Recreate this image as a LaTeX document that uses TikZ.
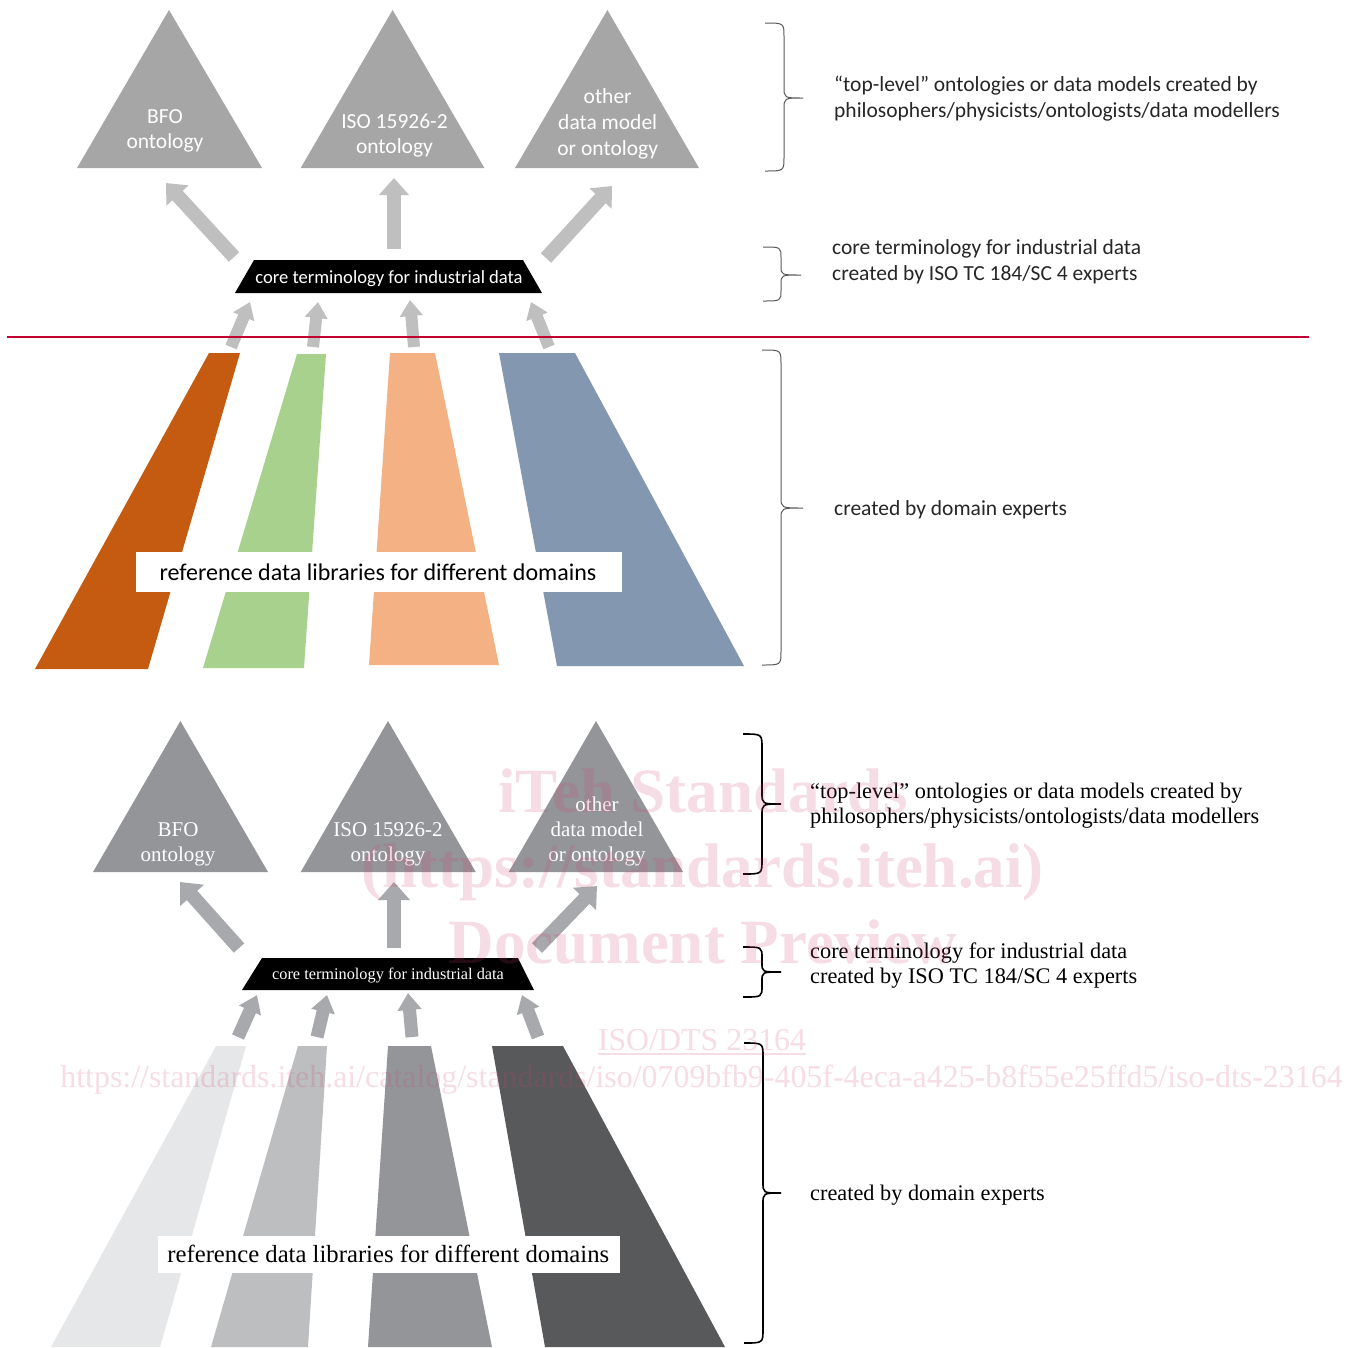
\documentclass[tikz,border=0pt]{standalone}
\usepackage{fontspec}
\setmainfont{Carlito}
\newfontfamily\serifface{Liberation Serif}
\usetikzlibrary{arrows.meta,calc}
\definecolor{tritop}{HTML}{A6A6A6}
\definecolor{arrtop}{HTML}{BFBFBF}
\definecolor{bandA}{HTML}{C55A11}
\definecolor{bandB}{HTML}{A9D18E}
\definecolor{bandC}{HTML}{F4B183}
\definecolor{bandD}{HTML}{8497B0}
\definecolor{redline}{HTML}{C00030}
\definecolor{tribot}{HTML}{939598}
\definecolor{arrbot}{HTML}{A7A9AC}
\definecolor{greyA}{HTML}{E6E7E8}
\definecolor{greyB}{HTML}{BCBEC0}
\definecolor{greyC}{HTML}{939598}
\definecolor{greyD}{HTML}{58595B}
\definecolor{bracetop}{HTML}{5A5A5A}
\definecolor{wmark}{HTML}{D0406A}
\newcommand{\mybrace}[9]{\draw[#1] (#2,#5) .. controls (#3,#5) .. (#3,#5+#8) -- (#3,#6-#9) .. controls (#3,#6) .. (#4,#6) .. controls (#3,#6) .. (#3,#6+#9) -- (#3,#7-#8) .. controls (#3,#7) .. (#2,#7);}
\tikzset{
  trilabtop/.style={text=white, font=\fontsize{21.5}{26}\selectfont, anchor=base, inner sep=0pt},
  trilabbot/.style={text=white, font=\serifface\fontsize{21}{25}\selectfont, anchor=base, inner sep=0pt},
  rlabtop/.style={text=black!85, font=\fontsize{21.5}{26}\selectfont, anchor=base west, inner sep=0pt},
  rlabbot/.style={text=black, font=\serifface\fontsize{22.3}{25}\selectfont, anchor=base west, inner sep=0pt},
  bigtop/.style={draw=arrtop, line width=14pt, -{Triangle[width=29pt,length=17pt]}},
  smalltop/.style={draw=arrtop, line width=12pt, -{Triangle[width=22pt,length=16pt]}},
  bigbot/.style={draw=arrbot, line width=14pt, -{Triangle[width=31pt,length=18pt]}},
  smallbot/.style={draw=arrbot, line width=13pt, -{Triangle[width=23pt,length=17pt]}},
  braceT/.style={draw=bracetop, line width=1pt},
  braceB/.style={draw=black, line width=1.6pt},
  libbox/.style={fill=white, inner sep=0pt},
  wm/.style={text=wmark, text opacity=0.18, anchor=base, inner sep=0pt},
}
\begin{document}
\begin{tikzpicture}[x=1pt,y=-1pt]
\useasboundingbox (0,0) rectangle (1359,1347);
\fill[white] (0,0) rectangle (1359,1347);

% ================= TOP HALF =================
\fill[tritop] (77,168) -- (169,10) -- (262,168) -- cycle;
\fill[tritop] (300.7,168) -- (392.6,10) -- (484.4,168) -- cycle;
\fill[tritop] (515,168) -- (607.4,10) -- (699,168) -- cycle;
\node[trilabtop] (bfoA) at (165,123) {BFO};
\node[trilabtop] (bfoB) at (165,148) {ontology};
\node[trilabtop] (isoA) at (394.5,128) {ISO 15926-2};
\node[trilabtop] (isoB) at (394.5,153) {ontology};
\node[trilabtop] (othA) at (607.7,103) {other};
\node[trilabtop] (othB) at (607.7,129) {data model};
\node[trilabtop] (othC) at (607.7,155) {or ontology};

\fill[black] (254,260) -- (523,260) -- (542,293) -- (235,293) -- cycle;
\node[text=white, font=\fontsize{18.6}{22}\selectfont, anchor=base, inner sep=0pt] (coreT) at (389,283) {core terminology for industrial data};

\coordinate (tA1) at (234,257); \coordinate (hA1) at (166,183);
\coordinate (tA2) at (394,249); \coordinate (hA2) at (394,178);
\coordinate (tA3) at (546,258); \coordinate (hA3) at (612,186);
\draw[bigtop] (tA1) -- (hA1);
\draw[bigtop] (tA2) -- (hA2);
\draw[bigtop] (tA3) -- (hA3);

\coordinate (tS1) at (231,347); \coordinate (hS1) at (250,302);
\coordinate (tS2) at (313,347); \coordinate (hS2) at (318,302);
\coordinate (tS3) at (414,347); \coordinate (hS3) at (410,300);
\coordinate (tS4) at (549,347); \coordinate (hS4) at (531,302);
\draw[smalltop] (tS1) -- (hS1);
\draw[smalltop] (tS2) -- (hS2);
\draw[smalltop] (tS3) -- (hS3);
\draw[smalltop] (tS4) -- (hS4);

\draw[redline, line width=2pt] (7,337) -- (1309,337);

\fill[bandA] (209,353) -- (240,353) -- (148,669) -- (35,669) -- cycle;
\fill[bandB] (297,354) -- (326,354) -- (304,668) -- (203,668) -- cycle;
\fill[bandC] (390,353) -- (435,353) -- (499,665) -- (369,665) -- cycle;
\fill[bandD] (499,353) -- (575,353) -- (744,666) -- (557,666) -- cycle;
\node[libbox, minimum width=486pt, minimum height=40pt] (libboxT) at (379,572) {};
\node[text=black, font=\fontsize{24}{28}\selectfont, anchor=base, inner sep=0pt] (libT) at (378,580) {reference data libraries for different domains};

\mybrace{braceT}{765}{784}{803}{23}{98}{171}{14}{11}
\node[rlabtop] (r1a) at (834,91) {“top-level” ontologies or data models created by};
\node[rlabtop] (r1b) at (834,117) {philosophers/physicists/ontologists/data modellers};
\mybrace{braceT}{763}{781}{801}{247}{275}{301}{11}{9}
\node[rlabtop] (r2a) at (832,254) {core terminology for industrial data};
\node[rlabtop] (r2b) at (832,280) {created by ISO TC 184/SC 4 experts};
\mybrace{braceT}{762}{781}{803}{350}{508}{665}{14}{11}
\node[rlabtop] (r3a) at (834,515) {created by domain experts};

% ================= BOTTOM HALF =================
\fill[tribot] (93,872) -- (180.4,721) -- (268,872) -- cycle;
\fill[tribot] (300.7,872) -- (388,721) -- (475.7,872) -- cycle;
\fill[tribot] (508.7,872) -- (596,721) -- (683,872) -- cycle;
\node[trilabbot] (bbfoA) at (178,836) {BFO};
\node[trilabbot] (bbfoB) at (178,861) {ontology};
\node[trilabbot] (bisoA) at (388,836) {ISO 15926-2};
\node[trilabbot] (bisoB) at (388,861) {ontology};
\node[trilabbot] (bothA) at (597,811) {other};
\node[trilabbot] (bothB) at (597,836) {data model};
\node[trilabbot] (bothC) at (597,861) {or ontology};

\fill[black] (262,958) -- (518,958) -- (534,990) -- (242,990) -- cycle;
\node[text=white, font=\serifface\fontsize{16.3}{20}\selectfont, anchor=base, inner sep=0pt] (coreB) at (388,979) {core terminology for industrial data};

\coordinate (tB1) at (239,948); \coordinate (hB1) at (180,882);
\coordinate (tB2) at (394,948); \coordinate (hB2) at (394,882);
\coordinate (tB3) at (537,948); \coordinate (hB3) at (597,886);
\draw[bigbot] (tB1) -- (hB1);
\draw[bigbot] (tB2) -- (hB2);
\draw[bigbot] (tB3) -- (hB3);

\coordinate (tC1) at (238,1037); \coordinate (hC1) at (257,995);
\coordinate (tC2) at (317,1037); \coordinate (hC2) at (327,995);
\coordinate (tC3) at (412,1037); \coordinate (hC3) at (408,993);
\coordinate (tC4) at (538,1037); \coordinate (hC4) at (522,995);
\draw[smallbot] (tC1) -- (hC1);
\draw[smallbot] (tC2) -- (hC2);
\draw[smallbot] (tC3) -- (hC3);
\draw[smallbot] (tC4) -- (hC4);

\fill[greyA] (216,1046) -- (246,1046) -- (160,1347) -- (51,1347) -- cycle;
\fill[greyB] (298,1046) -- (327,1046) -- (308,1347) -- (211,1347) -- cycle;
\fill[greyC] (388,1046) -- (431,1046) -- (492,1347) -- (368,1347) -- cycle;
\fill[greyD] (492,1046) -- (563,1046) -- (725,1347) -- (545,1347) -- cycle;
\node[libbox, minimum width=462pt, minimum height=37pt] (libboxB) at (388.5,1254.5) {};
\node[text=black, font=\serifface\fontsize{24.7}{28}\selectfont, anchor=base, inner sep=0pt] (libB) at (388.3,1262) {reference data libraries for different domains};

\mybrace{braceB}{743}{762}{781}{734}{804}{874}{14}{11}
\node[rlabbot] (s1a) at (810,798) {“top-level” ontologies or data models created by};
\node[rlabbot] (s1b) at (810,823) {philosophers/physicists/ontologists/data modellers};
\mybrace{braceB}{743}{762}{781}{947}{972}{997}{11}{9}
\node[rlabbot] (s2a) at (810,958) {core terminology for industrial data};
\node[rlabbot] (s2b) at (810,983) {created by ISO TC 184/SC 4 experts};
\mybrace{braceB}{744}{763}{781}{1043}{1193}{1343}{14}{11}
\node[rlabbot] (s3a) at (810,1200) {created by domain experts};

% ================= WATERMARK =================
\node[wm, font=\serifface\bfseries\fontsize{63}{70}\selectfont] (wmA) at (703,812) {iTeh Standards};
\node[wm, font=\serifface\bfseries\fontsize{63}{70}\selectfont] (wmB) at (702.5,887) {(https://standards.iteh.ai)};
\node[wm, font=\serifface\bfseries\fontsize{63}{70}\selectfont] (wmC) at (702.5,963) {Document Preview};
\node[wm, font=\serifface\fontsize{31.9}{36}\selectfont] (wmD) at (702,1050) {ISO/DTS 23164};
\draw[wmark, draw opacity=0.18, line width=1.5pt] ($(wmD.base west)+(0,4)$) -- ($(wmD.base east)+(0,4)$);
\node[wm, font=\serifface\fontsize{31.9}{36}\selectfont] (wmE) at (701.5,1087) {https://standards.iteh.ai/catalog/standards/iso/0709bfb9-405f-4eca-a425-b8f55e25ffd5/iso-dts-23164};
\end{tikzpicture}
\end{document}
